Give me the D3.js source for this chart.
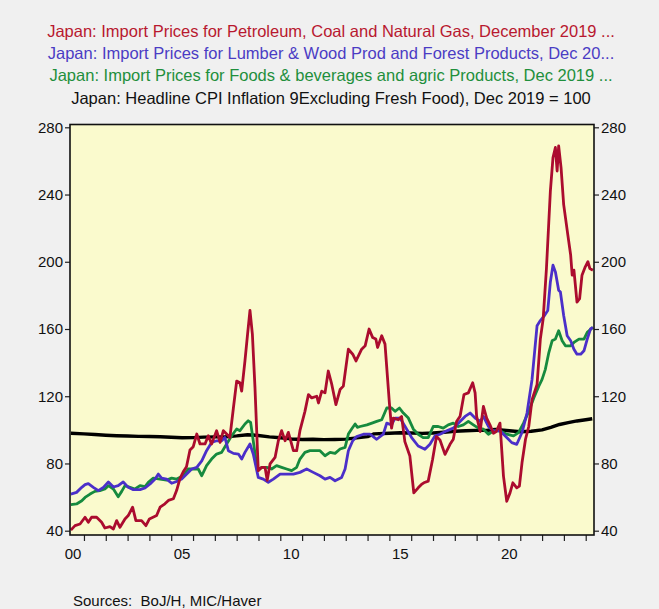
<!DOCTYPE html>
<html><head><meta charset="utf-8">
<script src="https://cdn.jsdelivr.net/npm/d3@7"></script>
<style>
body{margin:0;background:#f0f0f0;}
svg{display:block;font-family:"Liberation Sans",Arial,sans-serif;}
</style>
</head><body>
<svg id="chart" width="659" height="609"></svg>
<script>
// ---- Data (decimal year, index Dec 2019 = 100) ----
const titles = [
  "Japan: Import Prices for Petroleum, Coal and Natural Gas, December 2019 ...",
  "Japan: Import Prices for Lumber & Wood Prod and Forest Products, Dec 20...",
  "Japan: Import Prices for Foods & beverages and agric Products, Dec 2019 ...",
  "Japan: Headline CPI Inflation 9Excluding Fresh Food), Dec 2019 = 100"
];
const seriesColors = ["#ab0c2e", "#4b2fc9", "#168a3e", "#000000"];
const titleColors = ["#b8182f", "#4b3cc4", "#1f8f3c", "#111111"];

const petroleum = [
  [2000.40,40.4],[2000.59,43],[2000.82,44],[2001.05,48],[2001.20,45],[2001.35,48],[2001.58,48],[2001.81,45],
  [2001.96,41.6],[2002.19,42.4],[2002.35,41],[2002.50,46],[2002.65,42],[2002.88,47],[2003.03,49],[2003.23,54],
  [2003.38,46],[2003.64,46],[2003.84,43],[2004.00,47],[2004.33,49],[2004.49,54],[2004.71,56],[2004.87,58],
  [2005.10,59],[2005.25,64],[2005.40,71],[2005.55,75],[2005.70,78],[2005.86,88],[2006.01,90],[2006.17,97.5],
  [2006.32,91.6],[2006.55,91.6],[2006.70,96.5],[2006.85,91.6],[2007.08,99.5],[2007.24,92.5],[2007.39,99.5],
  [2007.54,97.5],[2007.69,95.5],[2007.85,113],[2008.00,129],[2008.15,128],[2008.23,123],[2008.38,141],
  [2008.50,157],[2008.61,171],[2008.72,157],[2008.84,125],[2008.99,75.7],[2009.15,77.7],[2009.30,77.7],
  [2009.40,70],[2009.53,79.7],[2009.76,83.6],[2009.91,93.5],[2010.06,99.5],[2010.22,93.5],[2010.37,98.5],
  [2010.60,87.6],[2010.75,87.6],[2010.90,99.5],[2011.13,111],[2011.29,121],[2011.44,119],[2011.67,120],
  [2011.75,116],[2011.90,123],[2012.05,122],[2012.20,135],[2012.36,127],[2012.55,115],[2012.74,124],
  [2012.89,126],[2013.12,148],[2013.32,145],[2013.47,141],[2013.73,148],[2013.89,150],[2014.07,160],
  [2014.23,155],[2014.38,154],[2014.46,149],[2014.65,156],[2014.80,151],[2015.00,116],[2015.10,101],
  [2015.18,107],[2015.41,106],[2015.56,108],[2015.71,93],[2015.94,84.4],[2016.12,62.5],[2016.32,65.5],
  [2016.47,67.5],[2016.58,68.5],[2016.78,69.5],[2016.98,82.4],[2017.16,96],[2017.32,94],[2017.55,85.4],
  [2017.78,91.4],[2017.93,94.4],[2018.08,105],[2018.24,108],[2018.42,121],[2018.62,122],[2018.82,128],
  [2018.93,122],[2019.00,108],[2019.16,99],[2019.31,114],[2019.46,107],[2019.61,103],[2019.77,98],
  [2019.90,99],[2020.07,104],[2020.23,72.5],[2020.38,57.5],[2020.53,62.5],[2020.66,68.5],[2020.84,65.5],
  [2020.96,66.5],[2021.08,80.4],[2021.24,94.4],[2021.39,102],[2021.54,118],[2021.77,127],[2021.92,154],
  [2022.05,166],[2022.20,196],[2022.38,242],[2022.50,262],[2022.61,268],[2022.69,254],[2022.76,269],
  [2022.87,256],[2022.99,234],[2023.18,216],[2023.31,204],[2023.38,192],[2023.46,195],[2023.60,176],
  [2023.72,178],[2023.83,192],[2023.98,197],[2024.10,200],[2024.19,196],[2024.33,195]
];

const lumber = [
  [2000.40,61.8],[2000.66,62.8],[2000.90,65.8],[2001.05,67.4],[2001.20,68],[2001.43,65.8],[2001.66,63.8],
  [2001.89,65.8],[2002.12,69],[2002.35,66],[2002.57,66.8],[2002.80,69],[2003.03,65.8],[2003.26,64.4],
  [2003.57,64.4],[2003.80,65.4],[2004.03,67.8],[2004.26,70.7],[2004.41,73.7],[2004.56,71.3],[2004.79,70.7],
  [2005.02,68.2],[2005.25,69.3],[2005.48,70.7],[2005.71,73.7],[2005.94,76.7],[2006.17,77.7],[2006.40,81.6],
  [2006.62,87.6],[2006.85,92.5],[2007.08,93.5],[2007.31,93.5],[2007.46,95.5],[2007.62,87.6],[2007.85,86],
  [2008.08,85.6],[2008.23,82.6],[2008.38,86.6],[2008.61,91.6],[2008.76,85.6],[2008.99,71.7],[2009.22,70.7],
  [2009.45,68.8],[2009.68,70.7],[2009.99,73.7],[2010.29,73.7],[2010.60,73.7],[2010.90,74.7],[2011.21,76.7],
  [2011.51,74.7],[2011.82,72.7],[2012.05,70.7],[2012.28,71.7],[2012.51,69.7],[2012.81,71.7],[2012.97,76.7],
  [2013.12,87.6],[2013.32,93.5],[2013.50,96],[2013.81,97.4],[2014.11,97.4],[2014.42,94.4],[2014.72,97.4],
  [2014.88,104],[2015.10,103],[2015.26,107],[2015.49,107],[2015.72,102],[2016.02,95.4],[2016.32,90.4],
  [2016.63,88.4],[2016.86,91.4],[2017.09,96.4],[2017.32,97.4],[2017.63,99.4],[2017.93,101],[2018.24,105],
  [2018.47,108],[2018.70,110],[2018.93,107],[2019.16,105],[2019.31,108],[2019.54,102],[2019.77,99.4],
  [2020.07,99.4],[2020.38,95.4],[2020.61,92.4],[2020.84,91.4],[2021.08,98.4],[2021.31,110],[2021.54,130],
  [2021.77,162],[2021.92,165],[2022.11,168],[2022.26,171],[2022.38,188],[2022.50,198],[2022.61,194],
  [2022.76,183],[2022.84,182],[2022.99,168],[2023.15,156],[2023.31,153],[2023.46,148],[2023.60,145],
  [2023.77,145],[2023.92,147],[2024.07,154],[2024.22,160],[2024.33,161]
];

const foods = [
  [2000.40,55.5],[2000.66,55.9],[2000.90,57.8],[2001.05,59.8],[2001.28,61.8],[2001.50,63.4],[2001.73,63.8],
  [2001.96,64.8],[2002.12,66.8],[2002.35,64.8],[2002.57,60.2],[2002.73,63.4],[2002.88,66.8],[2003.11,65.8],
  [2003.34,64.8],[2003.57,66.8],[2003.80,66.2],[2003.95,68.8],[2004.18,71.3],[2004.49,70.7],[2004.79,70.1],
  [2005.02,71.3],[2005.25,70.7],[2005.55,72.7],[2005.78,76.7],[2006.01,76.7],[2006.24,76.7],[2006.40,72.7],
  [2006.62,78.7],[2006.85,82.6],[2007.08,85.6],[2007.31,86.6],[2007.54,91.6],[2007.77,96.5],[2008.00,100.5],
  [2008.15,99.5],[2008.38,103.5],[2008.53,105.4],[2008.64,104.4],[2008.76,93.5],[2008.95,75.7],[2009.15,77.7],
  [2009.38,77.7],[2009.60,76.7],[2009.83,78.7],[2010.06,77.7],[2010.29,76.7],[2010.52,75.7],[2010.75,77.7],
  [2010.90,82.6],[2011.13,86.6],[2011.36,87.6],[2011.59,87.6],[2011.82,87.6],[2012.05,84.6],[2012.28,86.6],
  [2012.51,86],[2012.74,88.6],[2012.97,89.6],[2013.12,97.5],[2013.27,100.5],[2013.43,103.5],[2013.53,101.5],
  [2013.66,102],[2013.97,103],[2014.20,104],[2014.42,105],[2014.65,106],[2014.88,113],[2015.10,113],
  [2015.26,111],[2015.46,113],[2015.64,110],[2015.87,107],[2016.10,100.4],[2016.32,97.4],[2016.55,95.4],
  [2016.78,95.4],[2017.01,102],[2017.24,102],[2017.47,101],[2017.70,103],[2017.93,104],[2018.16,102],
  [2018.39,103],[2018.62,105],[2018.85,103],[2019.08,101],[2019.31,100.4],[2019.54,97.4],[2019.77,99.4],
  [2020.07,99.4],[2020.38,97.4],[2020.69,96.4],[2020.92,98.4],[2021.15,104],[2021.39,111],[2021.62,119],
  [2021.85,126],[2022.00,130],[2022.15,136],[2022.31,146],[2022.46,153],[2022.61,154],[2022.76,159],
  [2022.92,153],[2023.07,150],[2023.31,150],[2023.46,152],[2023.69,154],[2023.92,154],[2024.07,158],
  [2024.33,161]
];

const cpi = [
  [2000.40,98],[2001.00,97.6],[2001.50,97.2],[2002.00,96.8],[2002.50,96.5],[2003.00,96.3],[2003.50,96.1],
  [2004.00,96.0],[2004.50,95.9],[2005.00,95.6],[2005.50,95.3],[2006.00,95.4],[2006.50,95.7],[2007.00,95.8],
  [2007.50,95.9],[2008.00,96.4],[2008.50,97.1],[2008.90,96.8],[2009.50,95.8],[2010.00,95.3],[2010.50,94.6],
  [2011.00,94.3],[2011.50,94.4],[2012.00,94.2],[2012.50,94.3],[2013.00,94.5],[2013.50,95.2],[2014.00,96.0],
  [2014.30,97.6],[2015.00,98.0],[2015.50,98.3],[2016.00,98.1],[2016.50,97.9],[2017.00,98.1],[2017.50,98.6],
  [2018.00,99.2],[2018.50,99.5],[2019.00,99.7],[2019.50,99.8],[2019.85,100.2],[2020.50,99.5],[2021.00,98.9],
  [2021.50,99.2],[2022.00,100.0],[2022.40,101.5],[2022.80,103.2],[2023.20,104.3],[2023.60,105.3],
  [2024.00,106.0],[2024.30,106.6]
];

const yTicks = [40, 80, 120, 160, 200, 240, 280];
const yearTicks = d3.range(2001, 2025);
const xLabelYears = [2000, 2005, 2010, 2015, 2020];
const xLabelText = ["00", "05", "10", "15", "20"];
const sourceText = "Sources:  BoJ/H, MIC/Haver";

// ---- Layout ----
const svg = d3.select("#chart");
const L = 70, R = 594, T = 124.5, B = 535;
const x = d3.scaleLinear().domain([2000.36, 2024.38]).range([L, R]);
const y = d3.scaleLinear().domain([40, 280]).range([530.7, 127.3]);

svg.append("rect").attr("width", 659).attr("height", 609).attr("fill", "#f0f0f0");

// Titles
const titleY = [31, 53, 75, 98];
titles.forEach((t, i) => {
  svg.append("text").attr("x", 331).attr("y", titleY[i] + 6)
    .attr("text-anchor", "middle").attr("font-size", 16.5)
    .attr("fill", titleColors[i]).text(t);
});

// Plot background
svg.append("rect").attr("x", L).attr("y", T).attr("width", R - L).attr("height", B - T)
  .attr("fill", "#fafacd");

svg.append("clipPath").attr("id", "clip").append("rect")
  .attr("x", L).attr("y", T).attr("width", R - L).attr("height", B - T);

const line = d3.line().x(d => x(d[0])).y(d => y(d[1]));
const g = svg.append("g").attr("clip-path", "url(#clip)");
g.append("path").datum(cpi).attr("d", line).attr("fill", "none")
  .attr("stroke", seriesColors[3]).attr("stroke-width", 3.4).attr("stroke-linejoin", "round");
g.append("path").datum(foods).attr("d", line).attr("fill", "none")
  .attr("stroke", seriesColors[2]).attr("stroke-width", 2.8).attr("stroke-linejoin", "round");
g.append("path").datum(lumber).attr("d", line).attr("fill", "none")
  .attr("stroke", seriesColors[1]).attr("stroke-width", 2.8).attr("stroke-linejoin", "round");
g.append("path").datum(petroleum).attr("d", line).attr("fill", "none")
  .attr("stroke", seriesColors[0]).attr("stroke-width", 2.8).attr("stroke-linejoin", "round");

// Axes
const fmt = d => String(d);
const leftAxis = d3.axisLeft(y).tickValues(yTicks).tickSize(5).tickPadding(2).tickFormat(fmt);
const rightAxis = d3.axisRight(y).tickValues(yTicks).tickSize(5).tickPadding(2).tickFormat(fmt);
const bottomAxis = d3.axisBottom(x).tickValues(yearTicks).tickSize(6).tickFormat("");

function styleAxis(sel) {
  sel.select(".domain").remove();
  sel.selectAll(".tick line").attr("stroke", "#222").attr("stroke-width", 1.2);
  sel.selectAll(".tick text").attr("font-size", 15).attr("fill", "#111")
    .attr("font-family", "Liberation Sans, Arial, sans-serif");
}
svg.append("g").attr("transform", `translate(${L},0)`).call(leftAxis).call(styleAxis);
svg.append("g").attr("transform", `translate(${R},0)`).call(rightAxis).call(styleAxis);
svg.append("g").attr("transform", `translate(0,${B})`).call(bottomAxis).call(styleAxis);

// Year labels centred in year interval
svg.append("g").selectAll("text").data(xLabelYears).join("text")
  .attr("x", d => x(d + 0.5)).attr("y", 559)
  .attr("text-anchor", "middle").attr("font-size", 15).attr("fill", "#111")
  .text((d, i) => xLabelText[i]);

// Frame
svg.append("rect").attr("x", L).attr("y", T).attr("width", R - L).attr("height", B - T)
  .attr("fill", "none").attr("stroke", "#111").attr("stroke-width", 1.6);

// Source
svg.append("text").attr("x", 73).attr("y", 606).attr("font-size", 15).attr("fill", "#111")
  .style("white-space", "pre").text(sourceText);
</script>
</body></html>
